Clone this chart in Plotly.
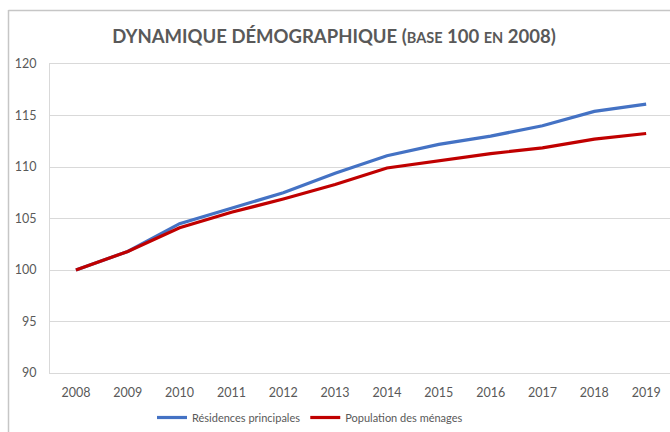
import plotly.graph_objects as go

years = ["2008", "2009", "2010", "2011", "2012", "2013", "2014", "2015", "2016", "2017", "2018", "2019"]
residences = [100, 101.8, 104.5, 106.0, 107.5, 109.4, 111.1, 112.2, 113.0, 114.0, 115.4, 116.1]
population = [100, 101.8, 104.1, 105.6, 106.9, 108.3, 109.9, 110.6, 111.3, 111.85, 112.7, 113.25]
y_ticks = [90, 95, 100, 105, 110, 115, 120]

W, H = 670, 432
L, T, B = 50, 64, 59
PW, PH = W - L, H - T - B

def px(x):
    return (x - L) / PW

def py(y):
    return (H - B - y) / PH

FONT = "Lato, 'Open Sans', sans-serif"
GRAY = "#595959"

fig = go.Figure()
fig.add_trace(go.Scatter(x=years, y=residences, mode="lines", name="Résidences principales",
                         line=dict(color="#4472C4", width=3.2)))
fig.add_trace(go.Scatter(x=years, y=population, mode="lines", name="Population des ménages",
                         line=dict(color="#C00000", width=3.2)))

fig.update_layout(
    width=W, height=H,
    margin=dict(l=L, r=0, t=T, b=B),
    paper_bgcolor="white", plot_bgcolor="white",
    font=dict(family=FONT, color=GRAY, size=12),
    title=dict(
        text="DYNAMIQUE DÉMOGRAPHIQUE (<span style='font-size:14.5px'>BASE</span> 100 <span style='font-size:14.5px'>EN</span> 2008)",
        x=334 / W, xref="container", xanchor="center",
        y=1 - 37 / H, yref="container", yanchor="middle",
        font=dict(family=FONT, size=18.5, color=GRAY, weight="bold"),
    ),
    showlegend=True,
    legend=dict(orientation="h", x=px(152), xanchor="left", y=py(418), yanchor="middle",
                font=dict(size=11, color=GRAY), bgcolor="rgba(0,0,0,0)",
                itemwidth=30, traceorder="normal"),
    xaxis=dict(
        type="category", range=[-0.5, 11.46],
        showgrid=False, showline=True, linecolor="#d9d9d9", linewidth=1, mirror=True,
        ticks="outside", ticklen=8, tickcolor="rgba(0,0,0,0)",
        tickfont=dict(size=12.5, color=GRAY), zeroline=False,
    ),
    yaxis=dict(
        range=[90, 120], tickvals=y_ticks,
        showgrid=True, gridcolor="#d9d9d9", gridwidth=1,
        showline=True, linecolor="#d9d9d9", linewidth=1, mirror=True,
        ticks="outside", ticklen=10, tickcolor="rgba(0,0,0,0)",
        tickfont=dict(size=12.5, color=GRAY), zeroline=False,
    ),
    shapes=[
        dict(type="line", xref="paper", yref="paper", x0=px(8.5), x1=px(8.5), y0=py(10), y1=py(440),
             line=dict(color="#c6c6c6", width=1.5)),
        dict(type="line", xref="paper", yref="paper", x0=px(8.5), x1=px(680), y0=py(10.5), y1=py(10.5),
             line=dict(color="#c6c6c6", width=1.5)),
    ],
)

fig.write_html("out.html", config={"displayModeBar": False},
               post_script="document.body.style.margin='0';document.body.style.overflow='hidden';")
